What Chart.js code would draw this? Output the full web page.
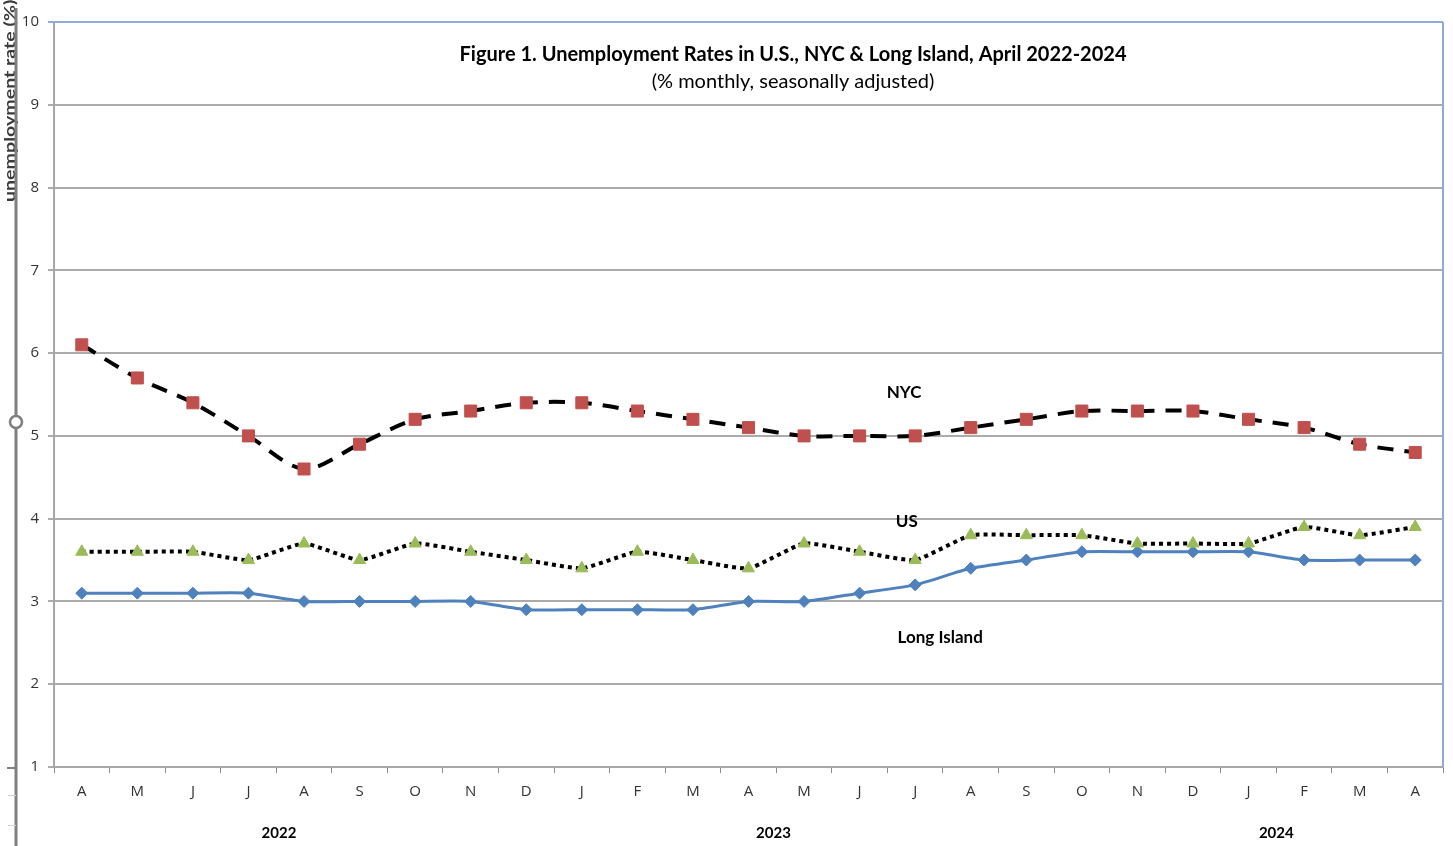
<!DOCTYPE html>
<html>
<head>
<meta charset="utf-8">
<script src="https://cdn.jsdelivr.net/npm/chart.js@4.4.0/dist/chart.umd.min.js"></script>
<style>
html, body { margin: 0; padding: 0; background: #fff; }
#wrap { width: 1453px; height: 846px; position: relative; }
</style>
</head>
<body>
<div id="wrap"><canvas id="unemp-chart"></canvas></div>
<script>
// 카테고리 (Apr 2022 ~ Apr 2024)
var months = ['A','M','J','J','A','S','O','N','D','J','F','M','A','M','J','J','A','S','O','N','D','J','F','M','A'];
// 시리즈 값
var nycRate = [6.1, 5.7, 5.4, 5.0, 4.6, 4.9, 5.2, 5.3, 5.4, 5.4, 5.3, 5.2, 5.1, 5.0, 5.0, 5.0, 5.1, 5.2, 5.3, 5.3, 5.3, 5.2, 5.1, 4.9, 4.8];
var usRate = [3.6, 3.6, 3.6, 3.5, 3.7, 3.5, 3.7, 3.6, 3.5, 3.4, 3.6, 3.5, 3.4, 3.7, 3.6, 3.5, 3.8, 3.8, 3.8, 3.7, 3.7, 3.7, 3.9, 3.8, 3.9];
var liRate = [3.1, 3.1, 3.1, 3.1, 3.0, 3.0, 3.0, 3.0, 2.9, 2.9, 2.9, 2.9, 3.0, 3.0, 3.1, 3.2, 3.4, 3.5, 3.6, 3.6, 3.6, 3.6, 3.5, 3.5, 3.5];
// 연도 라벨 (카테고리 인덱스 위치)
var yearLabels = ['2022', '2023', '2024'];
var yearIndex = [3.55, 12.45, 21.5];
// 시리즈 이름 라벨 (인덱스, 값)
var seriesNames = ['NYC', 'US', 'Long Island'];
var seriesNameIndex = [14.8, 14.85, 15.45];
var seriesNameValue = [5.52, 3.97, 2.56];

var UnempChart;

var titleFont = 'Lato, "Open Sans", sans-serif';
var tickFont = '"Open Sans", "Liberation Sans", sans-serif';

/**
 * 주석, 제목, 테두리 그리기
 */
var decorPlugin = {
	id: 'decor',
	afterDraw: function(chart) {
		var ctx = chart.ctx;
		var area = chart.chartArea;
		var xs = chart.scales.x;
		var ys = chart.scales.y;
		ctx.save();

		// 오른쪽 테두리 (파란색)
		ctx.strokeStyle = '#8eaadb';
		ctx.lineWidth = 2;
		ctx.beginPath();
		ctx.moveTo(area.right, area.top);
		ctx.lineTo(area.right, area.bottom);
		ctx.stroke();

		// 제목
		ctx.fillStyle = '#000';
		ctx.textAlign = 'center';
		ctx.textBaseline = 'middle';
		ctx.font = 'bold 20px ' + titleFont;
		ctx.fillText('Figure 1. Unemployment Rates in U.S., NYC & Long Island, April 2022-2024', 793, 55);
		ctx.font = '20px ' + titleFont;
		ctx.fillText('(% monthly, seasonally adjusted)', 793, 82);

		// 시리즈 이름
		ctx.font = 'bold 17px ' + titleFont;
		for (var i = 0; i < seriesNames.length; i++) {
			ctx.fillText(seriesNames[i], xs.getPixelForValue(seriesNameIndex[i]), ys.getPixelForValue(seriesNameValue[i]));
		}

		// 연도
		ctx.font = 'bold 15px ' + titleFont;
		for (var j = 0; j < yearLabels.length; j++) {
			ctx.fillText(yearLabels[j], xs.getPixelForValue(yearIndex[j]), 833);
		}

		// 잘린 축 제목
		ctx.save();
		ctx.translate(15, 202);
		ctx.rotate(-Math.PI / 2);
		ctx.fillStyle = '#3a3a3a';
		ctx.textAlign = 'left';
		ctx.textBaseline = 'alphabetic';
		ctx.font = 'bold 16px ' + titleFont;
		var w = ctx.measureText('unemployment rate (%').width;
		ctx.scale(197 / w, 1);
		ctx.fillText('unemployment rate (%)', 0, 0);
		ctx.restore();

		// 왼쪽 선택 핸들 (스크린샷 흔적)
		ctx.strokeStyle = '#7f7f7f';
		ctx.lineWidth = 3;
		ctx.beginPath();
		ctx.moveTo(16, 8);
		ctx.lineTo(16, 846);
		ctx.stroke();
		ctx.lineWidth = 2;
		ctx.beginPath();
		ctx.moveTo(7, 768);
		ctx.lineTo(16, 768);
		ctx.stroke();
		ctx.strokeStyle = '#d0d0d0';
		ctx.lineWidth = 1;
		ctx.beginPath();
		ctx.moveTo(8, 795.5);
		ctx.lineTo(16, 795.5);
		ctx.moveTo(8, 825.5);
		ctx.lineTo(16, 825.5);
		ctx.stroke();
		ctx.fillStyle = '#fff';
		ctx.strokeStyle = '#7f7f7f';
		ctx.lineWidth = 2.5;
		ctx.beginPath();
		ctx.arc(16, 422, 6, 0, Math.PI * 2);
		ctx.fill();
		ctx.stroke();
		ctx.restore();
	}
};

function createChart() {
	var canvas = document.getElementById('unemp-chart');
	UnempChart = new Chart(canvas, {
		type: 'line',
		data: {
			labels: months,
			datasets: [{
				label: 'Long Island',
				data: liRate,
				borderColor: '#4f81bd',
				borderWidth: 3,
				tension: 0.2,
				pointStyle: 'rectRot',
				pointRadius: 6,
				pointBackgroundColor: '#4f81bd',
				pointBorderColor: '#4f81bd',
				pointBorderWidth: 1,
				order: 3
			}, {
				label: 'US',
				data: usRate,
				borderColor: '#000',
				borderWidth: 4,
				borderDash: [4, 4],
				tension: 0.15,
				pointStyle: 'triangle',
				pointRadius: 7,
				pointBackgroundColor: '#9bbb59',
				pointBorderColor: '#9bbb59',
				pointBorderWidth: 1,
				order: 2
			}, {
				label: 'NYC',
				data: nycRate,
				borderColor: '#000',
				borderWidth: 4,
				borderDash: [16, 11],
				tension: 0.3,
				pointStyle: 'rect',
				pointRadius: 8.5,
				pointBackgroundColor: '#c0504d',
				pointBorderColor: '#c0504d',
				pointBorderWidth: 1,
				order: 1
			}]
		},
		options: {
			responsive: true,
			maintainAspectRatio: false,
			animation: false,
			layout: { padding: { top: 22, right: 10, left: 0, bottom: 0 } },
			plugins: {
				legend: { display: false },
				tooltip: { enabled: false },
				title: { display: false }
			},
			scales: {
				x: {
					offset: true,
					grid: {
						offset: true,
						drawOnChartArea: false,
						drawTicks: true,
						tickLength: 6,
						color: '#8c8c8c',
						lineWidth: 1
					},
					border: { color: '#a6a6a6', width: 2 },
					ticks: {
						color: '#333',
						font: { family: tickFont, size: 15 },
						padding: 10,
						maxRotation: 0,
						autoSkip: false
					},
					afterFit: function(scale) { scale.height = 79; }
				},
				y: {
					min: 1,
					max: 10,
					grid: {
						color: function(c) { return c.tick && c.tick.value === 10 ? '#8eaadb' : '#ababab'; },
						lineWidth: 2,
						tickLength: 6
					},
					border: { color: '#a6a6a6', width: 2 },
					ticks: {
						stepSize: 1,
						color: '#333',
						font: { family: tickFont, size: 15 },
						padding: 9
					},
					afterFit: function(scale) { scale.width = 54; }
				}
			}
		},
		plugins: [decorPlugin]
	});
}

createChart();
</script>
</body>
</html>
